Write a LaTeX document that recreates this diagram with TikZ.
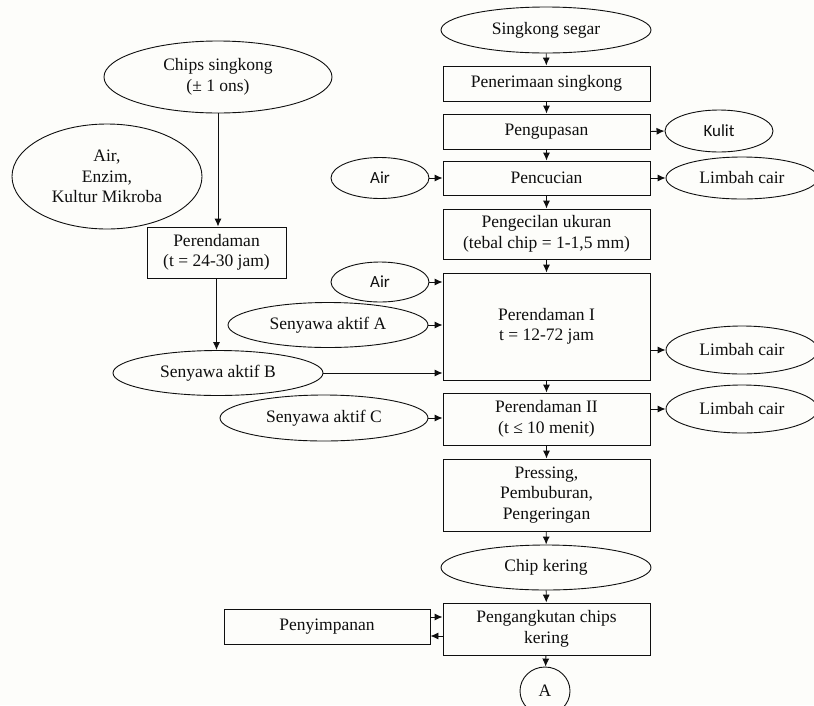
\documentclass[tikz,border=0pt]{standalone}
\usepackage{fontspec}
\setmainfont{Liberation Serif}
\newfontfamily\sansf{Carlito}
\usetikzlibrary{shapes.geometric,arrows.meta,calc}
\definecolor{paper}{RGB}{253,253,250}
\definecolor{ink}{RGB}{15,15,15}
\begin{document}
\begin{tikzpicture}[x=1pt,y=-1pt,
  every node/.style={font=\fontsize{17.5}{20.5}\selectfont, text=ink, align=center, inner sep=0pt},
  box/.style={draw=ink, line width=0.9pt, rectangle, minimum width=#1},
  box/.default=207,
  oval/.style={draw=ink, line width=0.9pt, ellipse},
  sans/.style={font=\sansf\fontsize{17}{20}\selectfont},
  arr/.style={draw=ink, line width=0.9pt, -{Latex[length=8pt,width=7pt]}}]
  % page
  \fill[paper] (0,0) rectangle (814,705);
  \useasboundingbox (0,0) rectangle (814,705);
  \clip (0,0) rectangle (814,705);

  % main process column
  \node[oval, minimum width=210, minimum height=46] (sg) at (546,30) {Singkong segar};
  \node[box, minimum height=35] (pen) at (546.5,83.5) {Penerimaan singkong};
  \node[box, minimum height=35] (kup) at (546.5,131.5) {Pengupasan};
  \node[box, minimum height=34] (cuci) at (546.5,178) {Pencucian};
  \node[box, minimum height=50] (kecil) at (546.5,234) {Pengecilan ukuran\\(tebal chip = 1-1,5 mm)};
  \node[box, minimum height=107] (rend1) at (546.5,326.5) {Perendaman I\\t = 12-72 jam};
  \node[box, minimum height=52] (rend2) at (546.5,419) {Perendaman II\\(t ≤ 10 menit)};
  \node[box, minimum height=72] (press) at (546.5,495) {Pressing,\\Pembuburan,\\Pengeringan};
  \node[oval, minimum width=210, minimum height=45] (chip) at (546,567.5) {Chip kering};
  \node[box, minimum height=52] (angkut) at (546.5,629) {Pengangkutan chips\\kering};
  \node[oval, minimum width=50, minimum height=48] (A) at (545,691) {A};

  % outputs on the right
  \node[oval, sans, minimum width=108, minimum height=42] (kulit) at (719,131) {Kulit};
  \node[oval, minimum width=152, minimum height=42] (lc1) at (742,178) {Limbah cair};
  \node[oval, minimum width=152, minimum height=48] (lc2) at (742,350) {Limbah cair};
  \node[oval, minimum width=152, minimum height=48] (lc3) at (742,409) {Limbah cair};

  % inputs on the left
  \node[oval, sans, minimum width=98, minimum height=41] (air1) at (380,178) {Air};
  \node[oval, sans, minimum width=98, minimum height=40] (air2) at (380,282) {Air};
  \node[oval, minimum width=200, minimum height=45] (senA) at (328,325) {Senyawa aktif A};
  \node[oval, minimum width=210, minimum height=45] (senB) at (218,373) {Senyawa aktif B};
  \node[oval, minimum width=208, minimum height=46] (senC) at (324,418) {Senyawa aktif C};

  % culture preparation branch
  \node[oval, minimum width=228, minimum height=72] (chips) at (218,77) {Chips singkong\\(± 1 ons)};
  \node[oval, minimum width=190, minimum height=105] (aek) at (107,176.5) {Air,\\Enzim,\\Kultur Mikroba};
  \node[box=139, minimum height=51] (prd) at (216.5,252.5) {Perendaman\\(t = 24-30 jam)};

  % storage
  \node[box=206, minimum height=35] (simpan) at (327,626.5) {Penyimpanan};

  % main flow
  \draw[arr] (sg) -- (pen);
  \draw[arr] (pen) -- (kup);
  \draw[arr] (kup) -- (cuci);
  \draw[arr] (cuci) -- (kecil);
  \draw[arr] (kecil) -- (rend1);
  \draw[arr] (rend1) -- (rend2);
  \draw[arr] (rend2) -- (press);
  \draw[arr] (press) -- (chip);
  \draw[arr] (chip) -- (angkut);
  \draw[arr] (angkut) -- (A);

  % side outputs
  \draw[arr] (kup.east) -- (kulit.west);
  \draw[arr] (cuci.east) -- (lc1.west);
  \draw[arr] (rend1.east |- lc2.west) -- (lc2.west);
  \draw[arr] (rend2.east |- lc3.west) -- (lc3.west);

  % side inputs
  \draw[arr] (air1.east) -- (cuci.west);
  \draw[arr] (air2.east) -- (air2.east -| rend1.west);
  \draw[arr] (senA.east) -- (senA.east -| rend1.west);
  \draw[arr] (senB.east) -- (senB.east -| rend1.west);
  \draw[arr] (senC.east) -- (senC.east -| rend2.west);

  % culture branch
  \draw[arr] (chips.south) -- (chips.south |- prd.north);
  \draw[arr] (prd.south) -- (prd.south |- senB.north);

  % storage exchange
  \coordinate (s1) at ([yshift=9.5pt]simpan.east);
  \coordinate (s2) at ([yshift=-9.5pt]simpan.east);
  \draw[arr] (s1) -- (s1 -| angkut.west);
  \draw[arr] (s2 -| angkut.west) -- (s2);
\end{tikzpicture}
\end{document}
